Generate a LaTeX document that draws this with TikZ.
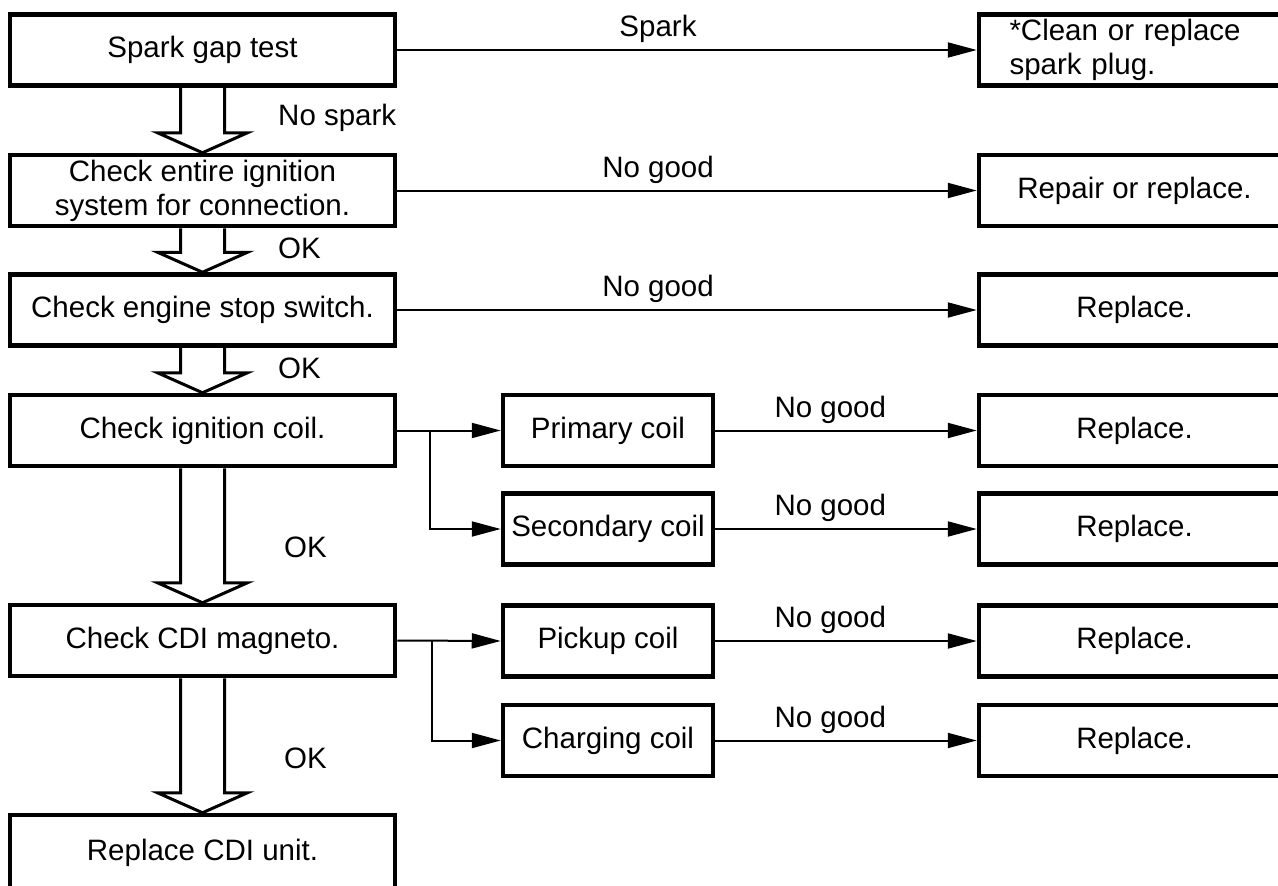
\documentclass[tikz,border=0pt]{standalone}
\usepackage{fontspec}
\setmainfont{Liberation Sans}
\usetikzlibrary{arrows.meta,calc,positioning}
\tikzset{stepbox/.style={draw, line width=4.5pt, minimum width=385pt, minimum height=71pt, inner sep=0pt, align=center, font=\fontsize{29.5}{34}\selectfont}, coilbox/.style={stepbox, minimum width=210pt}, fixbox/.style={stepbox, minimum width=311pt}, conn/.style={-{Triangle[length=29pt,width=15pt]}, line width=2pt}, hollow/.style={line width=3pt, line join=miter}, lab/.style={font=\fontsize{29.5}{34}\selectfont, inner sep=0pt}}
\newcommand\okarrow[2]{\draw[hollow] ($(#1.south)+(-22,0)$) -- ($(#2.north)+(-22,-20)$) -- ($(#2.north)+(-45,-20)$) -- (#2.north) -- ($(#2.north)+(45,-20)$) -- ($(#2.north)+(22,-20)$) -- ($(#1.south)+(22,0)$);}

\begin{document}
\begin{tikzpicture}[x=1pt,y=-1pt]
\useasboundingbox (0,0) rectangle (1278,886);
% main column
\node[stepbox] (spark) at (202.5,50) {Spark gap test};
\node[stepbox] (wiring) at (202.5,190.5) {Check entire ignition\\system for connection.};
\node[stepbox] (stopsw) at (202.5,310) {Check engine stop switch.};
\node[stepbox] (ign) at (202.5,430.5) {Check ignition coil.};
\node[stepbox] (cdi) at (202.5,640.5) {Check CDI magneto.};
\node[stepbox, minimum height=76pt] (unit) at (202.5,853) {Replace CDI unit.};
% coil checks
\node[coilbox] (pri) at (608,430.5) {Primary coil};
\node[coilbox] (sec) at (608,529) {Secondary coil};
\node[coilbox] (pick) at (608,641) {Pickup coil};
\node[coilbox] (chg) at (608,740.5) {Charging coil};
% remedies
\node[fixbox, align=left, text width=250pt] (plug) at (1134.5,50) {*Clean or replace\\spark plug.};
\node[fixbox] (repair) at (1134.5,190.5) {Repair or replace.};
\node[fixbox] (rstop) at (1134.5,310) {Replace.};
\node[fixbox] (rpri) at (1134.5,430.5) {Replace.};
\node[fixbox] (rsec) at (1134.5,529) {Replace.};
\node[fixbox] (rpick) at (1134.5,641) {Replace.};
\node[fixbox] (rchg) at (1134.5,740.5) {Replace.};
% OK flow
\okarrow{spark}{wiring}
\okarrow{wiring}{stopsw}
\okarrow{stopsw}{ign}
\okarrow{ign}{cdi}
\okarrow{cdi}{unit}
\node[lab, anchor=west] at (278,118) {No spark};
\node[lab, anchor=west] at (278,248) {OK};
\node[lab, anchor=west] at (278,368) {OK};
\node[lab, anchor=west] at (284,547) {OK};
\node[lab, anchor=west] at (284,758) {OK};
% fault flow
\draw[conn] (spark.east) -- node[lab, above=6pt, pos=0.45] {Spark} (plug.west);
\draw[conn] (wiring.east) -- node[lab, above=6pt, pos=0.45] {No good} (repair.west);
\draw[conn] (stopsw.east) -- node[lab, above=6pt, pos=0.45] {No good} (rstop.west);
\coordinate (ignfork) at ($(ign.east)+(33,0)$);
\draw[conn] (ign.east) -- (pri.west);
\draw[conn] (ignfork) |- (sec.west);
\coordinate (cdifork) at ($(cdi.east)+(35,0)$);
\draw[conn] (cdi.east) -- (pick.west);
\draw[conn] (cdifork) |- (chg.west);
\draw[conn] (pri.east) -- node[lab, above=6pt, pos=0.44] {No good} (rpri.west);
\draw[conn] (sec.east) -- node[lab, above=6pt, pos=0.44] {No good} (rsec.west);
\draw[conn] (pick.east) -- node[lab, above=6pt, pos=0.44] {No good} (rpick.west);
\draw[conn] (chg.east) -- node[lab, above=6pt, pos=0.44] {No good} (rchg.west);
\end{tikzpicture}
\end{document}
